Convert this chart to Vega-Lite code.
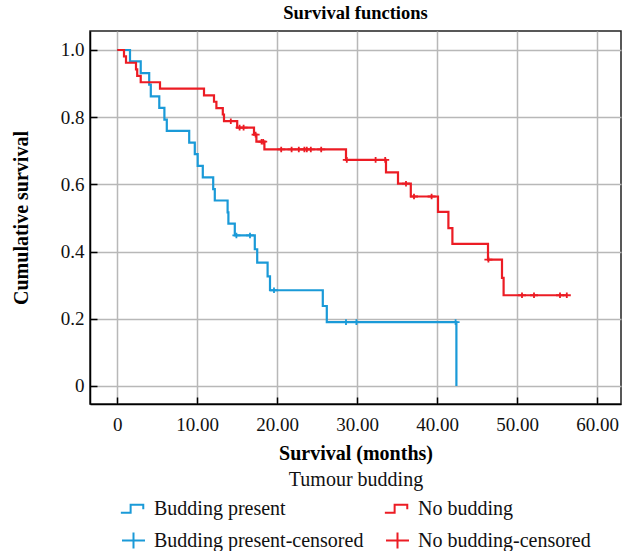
{
  "$schema": "https://vega.github.io/schema/vega-lite/v6.json",
  "width": 531,
  "height": 373,
  "autosize": "none",
  "padding": {"left": 90, "top": 31, "right": 2, "bottom": 147},
  "title": {"text": "Survival functions", "font": "Liberation Serif", "fontSize": 18.5, "fontWeight": "bold", "color": "#000", "offset": 9},
  "config": {
    "view": {"stroke": "#222", "strokeWidth": 1.5},
    "font": "Liberation Serif",
    "axis": {
      "labelFont": "Liberation Serif", "labelFontSize": 19, "labelColor": "#111",
      "titleFont": "Liberation Serif", "titleFontSize": 20, "titleFontWeight": "bold", "titleColor": "#000",
      "gridColor": "#b8b8b8", "gridWidth": 1.5, "gridOpacity": 1,
      "domainColor": "#000", "domainWidth": 1.5,
      "tickColor": "#000", "tickWidth": 1.5, "tickSize": -7
    },
    "legend": {
      "labelFont": "Liberation Serif", "labelFontSize": 20, "labelColor": "#111", "labelLimit": 400,
      "titleFont": "Liberation Serif", "titleFontSize": 20, "titleFontWeight": "normal", "titleColor": "#111"
    }
  },
  "datasets": {
    "curves": [
      {"g": "Budding present", "t": 0, "s": 1.0},
      {"g": "Budding present", "t": 1.6, "s": 0.966},
      {"g": "Budding present", "t": 2.94, "s": 0.931},
      {"g": "Budding present", "t": 4.0, "s": 0.897},
      {"g": "Budding present", "t": 4.2, "s": 0.862},
      {"g": "Budding present", "t": 5.26, "s": 0.828},
      {"g": "Budding present", "t": 5.9, "s": 0.793},
      {"g": "Budding present", "t": 6.2, "s": 0.759},
      {"g": "Budding present", "t": 9.0, "s": 0.724},
      {"g": "Budding present", "t": 9.7, "s": 0.69},
      {"g": "Budding present", "t": 10.06, "s": 0.655},
      {"g": "Budding present", "t": 10.7, "s": 0.621},
      {"g": "Budding present", "t": 12.0, "s": 0.586},
      {"g": "Budding present", "t": 12.2, "s": 0.552},
      {"g": "Budding present", "t": 13.8, "s": 0.517},
      {"g": "Budding present", "t": 13.9, "s": 0.483},
      {"g": "Budding present", "t": 14.7, "s": 0.448},
      {"g": "Budding present", "t": 17.2, "s": 0.407},
      {"g": "Budding present", "t": 17.5, "s": 0.367},
      {"g": "Budding present", "t": 18.8, "s": 0.326},
      {"g": "Budding present", "t": 19.1, "s": 0.285},
      {"g": "Budding present", "t": 25.7, "s": 0.238},
      {"g": "Budding present", "t": 26.2, "s": 0.19},
      {"g": "Budding present", "t": 42.4, "s": 0.0},
      {"g": "No budding", "t": 0, "s": 1.0},
      {"g": "No budding", "t": 0.85, "s": 0.981},
      {"g": "No budding", "t": 1.1, "s": 0.962},
      {"g": "No budding", "t": 2.35, "s": 0.942},
      {"g": "No budding", "t": 2.5, "s": 0.923},
      {"g": "No budding", "t": 2.94, "s": 0.904},
      {"g": "No budding", "t": 5.35, "s": 0.885},
      {"g": "No budding", "t": 10.85, "s": 0.865},
      {"g": "No budding", "t": 12.1, "s": 0.846},
      {"g": "No budding", "t": 12.4, "s": 0.827},
      {"g": "No budding", "t": 13.2, "s": 0.808},
      {"g": "No budding", "t": 13.35, "s": 0.788},
      {"g": "No budding", "t": 15.0, "s": 0.769},
      {"g": "No budding", "t": 17.1, "s": 0.748},
      {"g": "No budding", "t": 17.4, "s": 0.727},
      {"g": "No budding", "t": 18.4, "s": 0.704},
      {"g": "No budding", "t": 28.6, "s": 0.673},
      {"g": "No budding", "t": 33.6, "s": 0.636},
      {"g": "No budding", "t": 35.1, "s": 0.602},
      {"g": "No budding", "t": 36.7, "s": 0.564},
      {"g": "No budding", "t": 40.1, "s": 0.518},
      {"g": "No budding", "t": 41.4, "s": 0.47},
      {"g": "No budding", "t": 41.9, "s": 0.423},
      {"g": "No budding", "t": 46.35, "s": 0.376},
      {"g": "No budding", "t": 48.1, "s": 0.322},
      {"g": "No budding", "t": 48.3, "s": 0.27},
      {"g": "No budding", "t": 56.2, "s": 0.27}
    ],
    "cens": [
      {"g": "Budding present-censored", "t": 14.9, "s": 0.448},
      {"g": "Budding present-censored", "t": 16.6, "s": 0.448},
      {"g": "Budding present-censored", "t": 19.6, "s": 0.285},
      {"g": "Budding present-censored", "t": 28.6, "s": 0.19},
      {"g": "Budding present-censored", "t": 29.9, "s": 0.19},
      {"g": "Budding present-censored", "t": 42.3, "s": 0.19},
      {"g": "No budding-censored", "t": 14.2, "s": 0.788},
      {"g": "No budding-censored", "t": 15.3, "s": 0.769},
      {"g": "No budding-censored", "t": 15.8, "s": 0.769},
      {"g": "No budding-censored", "t": 17.3, "s": 0.748},
      {"g": "No budding-censored", "t": 18.05, "s": 0.727},
      {"g": "No budding-censored", "t": 18.25, "s": 0.727},
      {"g": "No budding-censored", "t": 20.5, "s": 0.704},
      {"g": "No budding-censored", "t": 21.8, "s": 0.704},
      {"g": "No budding-censored", "t": 22.7, "s": 0.704},
      {"g": "No budding-censored", "t": 23.4, "s": 0.704},
      {"g": "No budding-censored", "t": 23.7, "s": 0.704},
      {"g": "No budding-censored", "t": 24.2, "s": 0.704},
      {"g": "No budding-censored", "t": 25.5, "s": 0.704},
      {"g": "No budding-censored", "t": 28.7, "s": 0.673},
      {"g": "No budding-censored", "t": 32.3, "s": 0.673},
      {"g": "No budding-censored", "t": 33.5, "s": 0.673},
      {"g": "No budding-censored", "t": 36.1, "s": 0.602},
      {"g": "No budding-censored", "t": 37.1, "s": 0.564},
      {"g": "No budding-censored", "t": 39.3, "s": 0.564},
      {"g": "No budding-censored", "t": 46.4, "s": 0.376},
      {"g": "No budding-censored", "t": 50.6, "s": 0.27},
      {"g": "No budding-censored", "t": 52.1, "s": 0.27},
      {"g": "No budding-censored", "t": 55.35, "s": 0.27},
      {"g": "No budding-censored", "t": 56.2, "s": 0.27}
    ]
  },
  "encoding": {
    "x": {
      "field": "t", "type": "quantitative",
      "scale": {"domain": [-3.4, 62.975], "nice": false, "zero": false},
      "axis": {
        "values": [0, 10, 20, 30, 40, 50, 60],
        "labelExpr": "datum.value == 0 ? '0' : format(datum.value, '.2f')",
        "title": "Survival (months)", "grid": true, "labelPadding": 18, "titlePadding": 9
      }
    },
    "y": {
      "field": "s", "type": "quantitative",
      "scale": {"domain": [-0.0536, 1.0565], "nice": false, "zero": false},
      "axis": {
        "values": [0, 0.2, 0.4, 0.6, 0.8, 1.0],
        "labelExpr": "datum.value == 0 ? '0' : format(datum.value, '.1f')",
        "title": "Cumulative survival", "grid": true, "labelPadding": 13, "titlePadding": 29
      }
    }
  },
  "layer": [
    {
      "data": {"name": "curves"},
      "mark": {"type": "line", "interpolate": "step-after", "strokeWidth": 2.2},
      "encoding": {
        "color": {
          "field": "g", "type": "nominal",
          "scale": {
            "domain": ["Budding present", "No budding", "Budding present-censored", "No budding-censored"],
            "range": ["#1a9ad8", "#ec1c24", "#1a9ad8", "#ec1c24"]
          },
          "legend": {
            "title": "Tumour budding", "orient": "none", "legendX": 31, "legendY": 439,
            "columns": 2, "direction": "horizontal", "titleAnchor": "middle",
            "symbolSize": 529, "symbolStrokeWidth": 2, "rowPadding": 9, "columnPadding": 16,
            "labelOffset": 8, "titlePadding": 6, "padding": 0, "labelLimit": 400
          }
        }
      }
    },
    {
      "data": {"name": "cens"},
      "mark": {"type": "point", "filled": false, "strokeWidth": 1.8, "size": 64, "opacity": 1},
      "encoding": {
        "color": {"field": "g", "type": "nominal"},
        "shape": {
          "field": "g", "type": "nominal",
          "scale": {
            "domain": ["Budding present", "No budding", "Budding present-censored", "No budding-censored"],
            "range": ["M-1.1,0.35H-0.25V-0.35H0.85V0.05", "M-1.1,0.35H-0.25V-0.35H0.85V0.05", "M-1,0H1M0,-0.7V0.7", "M-1,0H1M0,-0.7V0.7"]
          },
          "legend": {
            "title": "Tumour budding", "orient": "none", "legendX": 31, "legendY": 439,
            "columns": 2, "direction": "horizontal", "titleAnchor": "middle",
            "symbolSize": 529, "symbolStrokeWidth": 2, "rowPadding": 9, "columnPadding": 16,
            "labelOffset": 8, "titlePadding": 6, "padding": 0, "labelLimit": 400
          }
        }
      }
    }
  ]
}
